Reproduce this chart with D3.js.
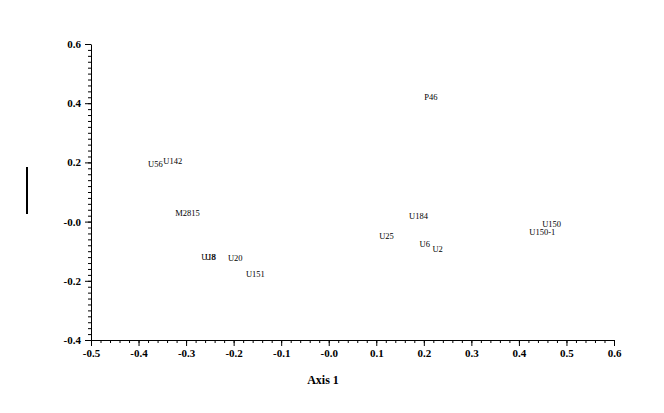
<!DOCTYPE html>
<html><head><meta charset="utf-8">
<script src="https://cdn.jsdelivr.net/npm/d3@7"></script>
<style>body{margin:0;background:#fff}svg{display:block}text{font-family:"Liberation Serif","Times New Roman",serif}</style>
</head><body>
<svg id="c" width="664" height="413"></svg>
<script>
const labels = ["P46","U56","U142","M2815","U18","U8","U20","U151","U184","U25","U6","U2","U150","U150-1"];
const xVals = [0.201,-0.380,-0.348,-0.323,-0.268,-0.260,-0.212,-0.174,0.169,0.106,0.191,0.218,0.449,0.422];
const yVals = [0.421,0.195,0.205,0.029,-0.120,-0.120,-0.123,-0.177,0.019,-0.049,-0.076,-0.093,-0.008,-0.035];
const xTicks = [-0.5,-0.4,-0.3,-0.2,-0.1,0,0.1,0.2,0.3,0.4,0.5,0.6];
const xTickLabels = ["-0.5","-0.4","-0.3","-0.2","-0.1","-0.0","0.1","0.2","0.3","0.4","0.5","0.6"];
const yTicks = [-0.4,-0.2,0,0.2,0.4,0.6];
const yTickLabels = ["-0.4","-0.2","-0.0","0.2","0.4","0.6"];

const svg = d3.select("#c");
const x = d3.scaleLinear().domain([-0.5,0.6]).range([91,614]);
const y = d3.scaleLinear().domain([-0.4,0.6]).range([340,44]);

const minorX = d3.range(0,56).map(i=>-0.5+i*0.02).filter(v=>v<=0.6001);
const minorY = d3.range(0,51).map(i=>-0.4+i*0.02).filter(v=>v<=0.6001);

// minor ticks
svg.append("g").attr("transform","translate(0,340)")
  .call(d3.axisBottom(x).tickValues(minorX).tickSize(3).tickFormat(""))
  .call(g=>g.select(".domain").remove())
  .selectAll("line").attr("stroke","#000");
svg.append("g").attr("transform","translate(91,0)")
  .call(d3.axisLeft(y).tickValues(minorY).tickSize(3).tickFormat(""))
  .call(g=>g.select(".domain").remove())
  .selectAll("line").attr("stroke","#000");

// major axes
const gx = svg.append("g").attr("transform","translate(0,340)")
  .call(d3.axisBottom(x).tickValues(xTicks).tickSize(6).tickSizeOuter(0).tickPadding(3)
    .tickFormat((d,i)=>xTickLabels[i]));
gx.select(".domain").attr("stroke","#000");
gx.selectAll("text").attr("font-size",11).attr("font-weight","bold").attr("fill","#000")
  .attr("font-family","Liberation Serif");
const gy = svg.append("g").attr("transform","translate(91,0)")
  .call(d3.axisLeft(y).tickValues(yTicks).tickSize(6).tickSizeOuter(0).tickPadding(4)
    .tickFormat((d,i)=>yTickLabels[i]));
gy.select(".domain").attr("stroke","#000");
gy.selectAll("text").attr("font-size",11).attr("font-weight","bold").attr("fill","#000")
  .attr("font-family","Liberation Serif");

// point labels
svg.append("g").selectAll("text").data(labels).join("text")
  .attr("x",(d,i)=>x(xVals[i]))
  .attr("y",(d,i)=>y(yVals[i]))
  .attr("dy","0.33em")
  .attr("font-size",8.5)
  .attr("fill","#000")
  .text(d=>d);

// axis title
svg.append("text").attr("x",323).attr("y",384).attr("text-anchor","middle")
  .attr("font-size",12).attr("font-weight","bold").text("Axis 1");

// y axis title bar
svg.append("line").attr("x1",27).attr("x2",27).attr("y1",167).attr("y2",214)
  .attr("stroke","#000").attr("stroke-width",2);
</script>
</body></html>
